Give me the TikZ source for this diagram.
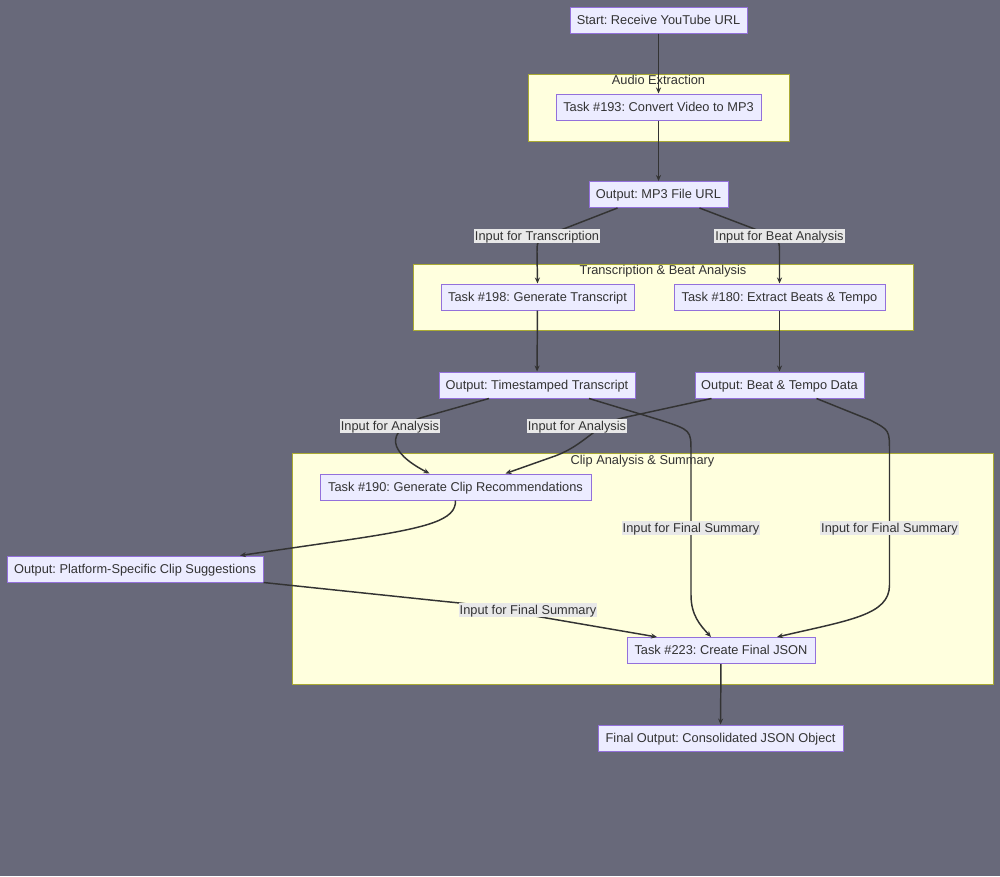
\documentclass[tikz,border=0pt]{standalone}
\usepackage{fontspec}
\setmainfont{Liberation Sans}
\usetikzlibrary{calc,arrows.meta}
\definecolor{bg}{RGB}{104,105,122}
\definecolor{nodefill}{HTML}{ECECFF}
\definecolor{nodestroke}{HTML}{9370DB}
\definecolor{clfill}{HTML}{FFFFDE}
\definecolor{clstroke}{HTML}{AAAA33}
\definecolor{lblfill}{HTML}{E8E8E8}
\definecolor{txt}{HTML}{333333}
\frenchspacing
\begin{document}
\begin{tikzpicture}[x=0.75pt,y=-0.75pt,
  fnt/.style={font=\fontsize{9.6}{11}\selectfont\frenchspacing,text height=6.5pt,text depth=0pt},
  box/.style={fnt,draw=nodestroke,fill=nodefill,line width=0.75pt,minimum height=19.5pt,inner sep=0pt,text=txt},
  cluster/.style={draw=clstroke,fill=clfill,line width=0.75pt},
  cltitle/.style={fnt,text=txt,inner sep=0pt},
  lbl/.style={fnt,fill=lblfill,text=txt,inner xsep=0.8pt,inner ysep=1.75pt},
  arr/.style={draw=txt,line width=1.1pt,-{Stealth[length=4.5pt,width=3.8pt]}}]
\fill[bg] (0,0) rectangle (1000,876);
\useasboundingbox (0,0) rectangle (1000,876);
% clusters
\draw[cluster] (528,74) rectangle (789,141);
\draw[cluster] (413,264) rectangle (913,330);
\draw[cluster] (292,453) rectangle (993,684);
\node[cltitle] (c1) at (658.5,80.5) {Audio Extraction};
\node[cltitle] (c2) at (663,270.5) {Transcription \& Beat Analysis};
\node[cltitle] (c3) at (642.5,460.5) {Clip Analysis \& Summary};
% nodes
\node[box,minimum width=132.75pt] (start) at (658.5,20) {Start: Receive YouTube URL};
\node[box,minimum width=153.75pt] (t193) at (658.5,107) {Task \#193: Convert Video to MP3};
\node[box,minimum width=104.25pt] (mp3) at (658.5,194.5) {Output: MP3 File URL};
\node[box,minimum width=144.75pt] (t198) at (537.5,297) {Task \#198: Generate Transcript};
\node[box,minimum width=158.25pt] (t180) at (779.5,297) {Task \#180: Extract Beats \& Tempo};
\node[box,minimum width=147pt] (ts) at (537,385) {Output: Timestamped Transcript};
\node[box,minimum width=126.75pt] (bt) at (779.5,385) {Output: Beat \& Tempo Data};
\node[box,minimum width=203.25pt] (t190) at (455.5,487) {Task \#190: Generate Clip Recommendations};
\node[box,minimum width=192pt] (clips) at (135,569) {Output: Platform-Specific Clip Suggestions};
\node[box,minimum width=141pt] (t223) at (721,650.5) {Task \#223: Create Final JSON};
\node[box,minimum width=183.75pt] (final) at (720.5,738) {Final Output: Consolidated JSON Object};
% edges
\draw[arr] (start) -- (t193);
\draw[arr] (t193) -- (mp3);
\draw[arr] ($(mp3.south)+(-41,0)$) -- (566,228) .. controls (537,239) .. (537,252) -- (t198.north);
\draw[arr] ($(mp3.south)+(41,0)$) -- (752,228) .. controls (779.5,239) .. (779.5,252) -- (t180.north);
\draw[arr] (t198) -- (ts);
\draw[arr] (t180) -- (bt);
\draw[arr] ($(ts.south)+(-48,0)$) -- (420,418) .. controls (385,432) and (388,452) .. ($(t190.north)+(-26,0)$);
\draw[arr] ($(bt.south)+(-68,0)$) -- (622,418) .. controls (595,425) and (585,445) .. (555,456) -- ($(t190.north)+(50,0)$);
\draw[arr] ($(ts.south)+(52,0)$) -- (660,420) .. controls (691,430) .. (691,452) -- (691,595) .. controls (691,615) and (700,625) .. ($(t223.north)+(-10,0)$);
\draw[arr] ($(bt.south)+(37,0)$) -- (870,420) .. controls (889.5,430) .. (889.5,452) -- (889.5,585) .. controls (889.5,615) and (850,620) .. ($(t223.north)+(56,0)$);
\draw[arr] (t190.south) .. controls (456,520) and (430,528) .. (340,541) -- ($(clips.north)+(105,0)$);
\draw[arr] (clips.south east) -- (440,601) .. controls (470,604) .. (500,610) -- ($(t223.north)+(-64,0)$);
\draw[arr] (t223) -- (final);
% edge labels
\node[lbl] (l1) at (537,236) {Input for Transcription};
\node[lbl] (l2) at (779.5,236) {Input for Beat Analysis};
\node[lbl] (l3) at (390,426) {Input for Analysis};
\node[lbl] (l4) at (577,426) {Input for Analysis};
\node[lbl] (l5) at (691,528) {Input for Final Summary};
\node[lbl] (l6) at (889.5,528) {Input for Final Summary};
\node[lbl] (l7) at (528,610) {Input for Final Summary};
\end{tikzpicture}
\end{document}
